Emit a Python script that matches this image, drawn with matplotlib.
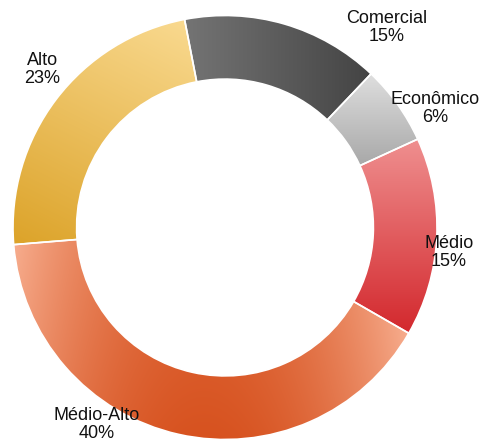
import numpy as np
import matplotlib
matplotlib.use('Agg')
import matplotlib.pyplot as plt
from matplotlib.colors import to_rgb

# slices, clockwise from the top
labels = ['Comercial', 'Econômico', 'Médio', 'Médio-Alto', 'Alto']
shares = [15, 6, 15, 40, 23]

# gradient colours for each slice (light end, dark end)
light = ['#747474', '#dedede', '#ef8f8f', '#f7ad8e', '#f9d98f']
dark = ['#444444', '#a8a8a8', '#d3282d', '#d7521f', '#dca329']

# where the labels sit (data coords, ring radius = 1)
label_pos = [(0.764, 0.943), (0.991, 0.561), (1.057, -0.118),
             (-0.604, -0.93), (-0.863, 0.745)]

fig = plt.figure(figsize=(4.83, 4.41), dpi=100)
ax = fig.add_axes([13 / 483, 1 / 441, 424 / 483, 425 / 441])

wedges, _ = ax.pie(shares, startangle=101, counterclock=False, radius=1,
                   wedgeprops=dict(width=0.3, edgecolor='white', linewidth=1.2))

# grid for the shaded fills
n = 600
xs = np.linspace(-1, 1, n)
X, Y = np.meshgrid(xs, xs)
R = np.hypot(X, Y)
T = np.degrees(np.arctan2(Y, X)) % 360


def shade(i):
    # projection that goes from light (low) to dark (high)
    if i == 0:
        return X
    if i == 3:
        return -(X + 0.1) ** 2 - 0.3 * Y
    if i == 4:
        return -0.5 * X - Y
    return -Y


for i, w in enumerate(wedges):
    t1, t2 = w.theta1 % 360, w.theta2 % 360
    if t1 <= t2:
        inside = (T >= t1) & (T <= t2)
    else:
        inside = (T >= t1) | (T <= t2)
    inside &= (R >= 0.7) & (R <= 1)
    p = shade(i)
    lo, hi = p[inside].min(), p[inside].max()
    t = np.clip((p - lo) / (hi - lo), 0, 1)[..., None]
    c0 = np.array(to_rgb(light[i]))
    c1 = np.array(to_rgb(dark[i]))
    img = c0 * (1 - t) + c1 * t
    im = ax.imshow(img, extent=(-1, 1, -1, 1), origin='lower',
                   interpolation='bilinear', zorder=1)
    im.set_clip_path(w)
    w.set_facecolor('none')
    w.set_zorder(2)

for lab, s, (x, y) in zip(labels, shares, label_pos):
    ax.text(x, y, f'{lab}\n{s}%', ha='center', va='center', fontsize=13,
            family='Liberation Sans', linespacing=1.05, color='#111111')

ax.set_xlim(-1, 1)
ax.set_ylim(-1, 1)
ax.axis('off')

fig.savefig('out.png', dpi=100)
